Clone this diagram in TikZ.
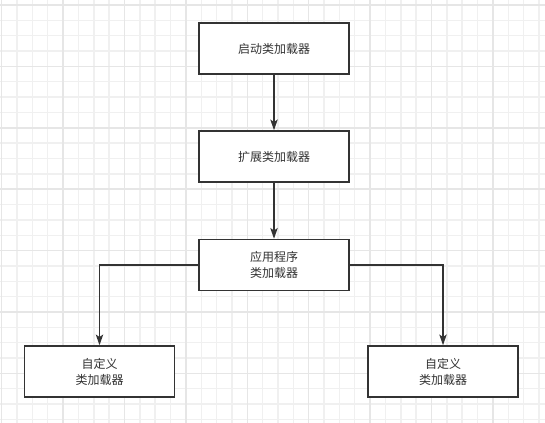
\documentclass[tikz,border=0pt]{standalone}
\usepackage{fontspec}
\newfontfamily\cjk{Noto Sans CJK SC}
\usepackage{tikz}
\usetikzlibrary{arrows.meta}
\definecolor{linegray}{HTML}{333333}
\definecolor{gridminor}{HTML}{F0F0F0}
\definecolor{gridmajor}{HTML}{E6E6E6}

\begin{document}
\begin{tikzpicture}[x=0.75pt,y=-0.75pt,
    loader/.style={draw=linegray,line width=1.15pt,fill=white,minimum width=112.5pt,minimum height=38.25pt,
      inner sep=0pt,align=center,text=linegray,font=\cjk\fontsize{9}{12}\selectfont},
    link/.style={draw=linegray,line width=1.15pt,-{Stealth[length=8pt,width=5.5pt,inset=1.8pt]}}]
    \useasboundingbox(0,0)rectangle(545,423);
    \fill[white](0,0)rectangle(545,423);

    % grid
    \foreach \i in {0,...,36}{
      \draw[gridminor,line width=1.1pt](1.7+15.35*\i,0)--++(0,423);
      \draw[gridminor,line width=1.1pt](0,5+15.35*\i)--++(545,0);
    }
    \foreach \i in {0,...,9}{
      \draw[gridmajor,line width=1.1pt](1.7+61.4*\i,0)--++(0,423);
      \draw[gridmajor,line width=1.1pt](0,5+61.4*\i)--++(545,0);
    }

    \node[loader](boot)at(274,48.5){启动类加载器};
    \node[loader](ext)at(274,156.5){扩展类加载器};
    \node[loader](app)at(274,265){应用程序\\类加载器};
    \node[loader](customl)at(99.5,371.5){自定义\\类加载器};
    \node[loader](customr)at(443,371.5){自定义\\类加载器};

    \draw[link](boot)--(ext);
    \draw[link](ext)--(app);
    \draw[link](app.west)-|(customl.north);
    \draw[link](app.east)-|(customr.north);
  \end{tikzpicture}
\end{document}
